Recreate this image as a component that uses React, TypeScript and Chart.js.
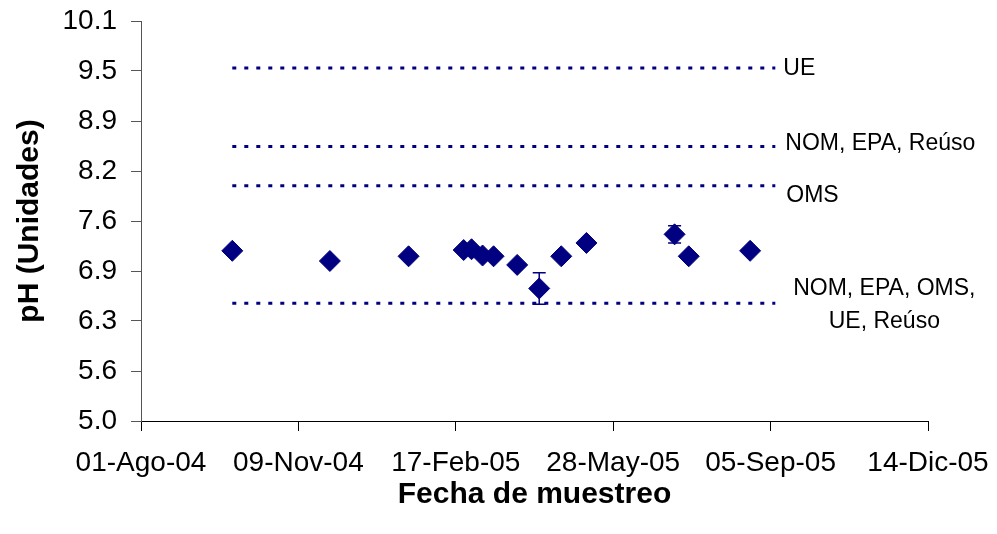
import React, { useEffect, useRef } from "react";
import { Chart, registerables } from "chart.js";

Chart.register(...registerables);

const FONT = '"Liberation Sans", Arial, sans-serif';
const NAVY = "#000080";

// Axis ticks
const baseDate = "2004-08-01";
const xTickLabels = ["01-Ago-04", "09-Nov-04", "17-Feb-05", "28-May-05", "05-Sep-05", "14-Dic-05"];
const yTickLabels = ["5.0", "5.6", "6.3", "6.9", "7.6", "8.2", "8.9", "9.5", "10.1"];

// Samples
const sampleDates = [
  "2004-09-28", "2004-11-29", "2005-01-18", "2005-02-22", "2005-02-27", "2005-03-06", "2005-03-13",
  "2005-03-28", "2005-04-11", "2005-04-25", "2005-05-11", "2005-07-06", "2005-07-15", "2005-08-23",
];
const phValues = [7.17, 7.04, 7.1, 7.18, 7.19, 7.11, 7.1, 6.99, 6.69, 7.1, 7.27, 7.38, 7.1, 7.17];
const phErrors = [0, 0, 0, 0, 0, 0, 0, 0, 0.2, 0, 0, 0.11, 0, 0];

// Regulatory limits
const limitStart = "2004-09-28";
const limitEnd = "2005-09-08";
const limitLevels = [9.5, 8.5, 8.0, 6.5];
const limitLabels = [["UE"], ["NOM, EPA, Reúso"], ["OMS"], ["NOM, EPA, OMS,", "UE, Reúso"]];

const dayIndex = (d: string) =>
  Math.round((Date.parse(d + "T00:00:00Z") - Date.parse(baseDate + "T00:00:00Z")) / 86400000);

// label placement relative to line end / level: [dx, dy, align]
const labelPlacement: [number, number, CanvasTextAlign][] = [
  [8, 1, "left"],
  [10, -3, "left"],
  [11, 10, "left"],
  [109, -15, "center"],
];

const overlayPlugin = {
  id: "overlay",
  afterDatasetsDraw(chart: any) {
    const { ctx, scales } = chart;
    const xs = scales.x;
    const ys = scales.y;
    ctx.save();
    // error bars
    ctx.strokeStyle = NAVY;
    ctx.lineWidth = 1.5;
    sampleDates.forEach((d, i) => {
      const e = phErrors[i];
      if (!e) return;
      const px = xs.getPixelForValue(dayIndex(d));
      const top = ys.getPixelForValue(phValues[i] + e);
      const bot = ys.getPixelForValue(phValues[i] - e);
      ctx.beginPath();
      ctx.moveTo(px, top);
      ctx.lineTo(px, bot);
      ctx.moveTo(px - 6.5, top);
      ctx.lineTo(px + 6.5, top);
      ctx.moveTo(px - 6.5, bot);
      ctx.lineTo(px + 6.5, bot);
      ctx.stroke();
    });
    // limit labels
    ctx.fillStyle = "#000";
    ctx.font = `23px ${FONT}`;
    ctx.textBaseline = "middle";
    const endPx = xs.getPixelForValue(dayIndex(limitEnd));
    limitLevels.forEach((lv, i) => {
      const [dx, dy, align] = labelPlacement[i];
      ctx.textAlign = align;
      const py = ys.getPixelForValue(lv);
      limitLabels[i].forEach((line, j) => {
        ctx.fillText(line, endPx + dx, py + dy + j * 33);
      });
    });
    ctx.restore();
  },
};

const zeroPad = (s: any) => {
  s.paddingTop = 0;
  s.paddingBottom = 0;
  s.paddingLeft = 0;
  s.paddingRight = 0;
};

export default function App() {
  const ref = useRef<HTMLCanvasElement | null>(null);
  useEffect(() => {
    if (!ref.current) return;
    const sx = dayIndex(limitStart);
    const ex = dayIndex(limitEnd);
    const limitSets = limitLevels.map((lv) => ({
      type: "line" as const,
      data: [
        { x: sx, y: lv },
        { x: ex, y: lv },
      ],
      borderColor: NAVY,
      borderWidth: 3,
      borderDash: [4, 8],
      pointRadius: 0,
      showLine: true,
      fill: false,
    }));
    const chart = new Chart(ref.current, {
      type: "scatter",
      data: {
        datasets: [
          ...limitSets,
          {
            type: "scatter" as const,
            data: sampleDates.map((d, i) => ({ x: dayIndex(d), y: phValues[i] })),
            pointStyle: "rectRot",
            pointRadius: 10.5,
            backgroundColor: NAVY,
            borderColor: NAVY,
            borderWidth: 1,
          },
        ] as any,
      },
      options: {
        animation: false,
        responsive: true,
        maintainAspectRatio: false,
        layout: { padding: { top: 21, right: 69, left: 0, bottom: 0 } },
        plugins: { legend: { display: false }, tooltip: { enabled: false } },
        scales: {
          x: {
            type: "linear",
            min: 0,
            max: 500,
            ticks: {
              stepSize: 100,
              autoSkip: false,
              maxRotation: 0,
              minRotation: 0,
              padding: 15,
              color: "#000",
              font: { size: 28, family: FONT },
              callback: (_v: any, i: number) => xTickLabels[i],
            },
            grid: { drawOnChartArea: false, tickLength: 10, color: "#000", lineWidth: 1 },
            border: { color: "#000", width: 1 },
            title: {
              display: true,
              text: "Fecha de muestreo",
              color: "#000",
              font: { size: 30, weight: "bold", family: FONT },
              padding: { top: 0, bottom: 21 },
            },
            afterFit: (s: any) => {
              s.height = 113;
              zeroPad(s);
            },
          },
          y: {
            type: "linear",
            min: 5,
            max: 10.1,
            ticks: {
              stepSize: 5.1 / 8,
              autoSkip: false,
              padding: 14,
              color: "#000",
              font: { size: 28, family: FONT },
              callback: (_v: any, i: number) => yTickLabels[i],
            },
            grid: { drawOnChartArea: false, tickLength: 10, color: "#555", lineWidth: 1 },
            border: { color: "#555", width: 1 },
            title: {
              display: true,
              text: "pH (Unidades)",
              color: "#000",
              font: { size: 30, weight: "bold", family: FONT },
              padding: { top: 12, bottom: 0 },
            },
            afterFit: (s: any) => {
              s.width = 141;
              zeroPad(s);
            },
          },
        },
      } as any,
      plugins: [overlayPlugin],
    });
    return () => chart.destroy();
  }, []);
  return (
    <div style={{ position: "absolute", left: 0, top: 0, width: 997, height: 534, background: "#fff" }}>
      <canvas ref={ref} />
    </div>
  );
}
